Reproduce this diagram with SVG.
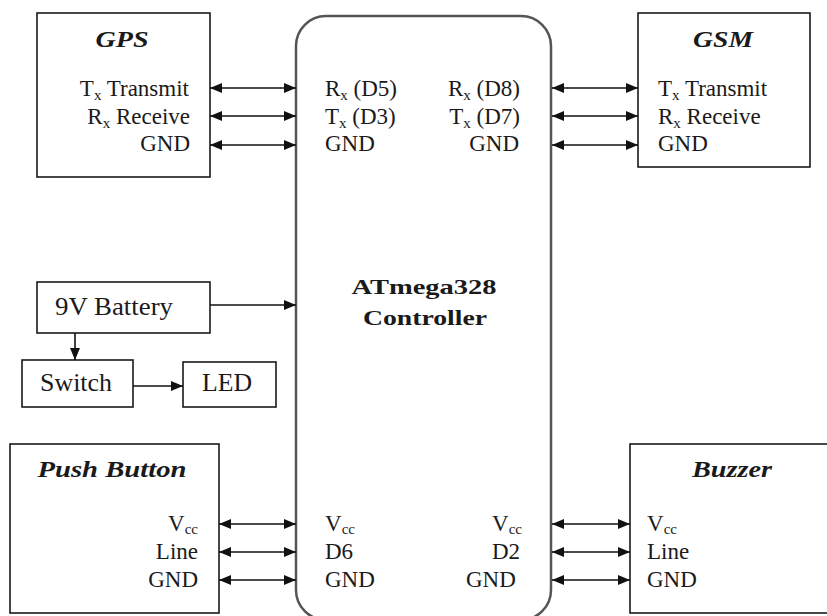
<svg xmlns="http://www.w3.org/2000/svg" width="827" height="616" viewBox="0 0 827 616">
<defs>
<marker id="ah" viewBox="0 0 12 10" refX="12" refY="5" markerWidth="12" markerHeight="10" markerUnits="userSpaceOnUse" orient="auto-start-reverse">
<path d="M0,0 L12,5 L0,10 z" fill="#111"/>
</marker>
<style>
.box{fill:#fff;stroke:#1a1a1a;stroke-width:1.6}
.ctrl{fill:#fff;stroke:#555;stroke-width:2.5}
.t{font-size:23px}
.b{font-size:26px}
.ttl{font-size:23px;font-weight:bold;font-style:italic}
.cb{font-size:22px;font-weight:bold}
.s{font-size:15px}
.c line{stroke:#111;stroke-width:1.6}
.bi line{marker-start:url(#ah);marker-end:url(#ah)}
</style>
</defs>
<rect width="827" height="616" fill="#fff"/>
<g font-family="Liberation Serif, 'Times New Roman', 'DejaVu Serif', serif" fill="#1a1a1a">

<g id="controller">
<rect class="ctrl" x="296" y="16" width="255" height="604" rx="30" ry="30"/>
<text class="cb" x="424" y="294" text-anchor="middle" textLength="145" lengthAdjust="spacingAndGlyphs">ATmega328</text>
<text class="cb" x="425" y="325" text-anchor="middle" textLength="124" lengthAdjust="spacingAndGlyphs">Controller</text>
<text class="t" x="325" y="96">R<tspan class="s" dy="4">x</tspan><tspan dy="-4"> (D5)</tspan></text>
<text class="t" x="325" y="124">T<tspan class="s" dy="4">x</tspan><tspan dy="-4"> (D3)</tspan></text>
<text class="t" x="325" y="151">GND</text>
<text class="t" x="520" y="96" text-anchor="end">R<tspan class="s" dy="4">x</tspan><tspan dy="-4"> (D8)</tspan></text>
<text class="t" x="520" y="124" text-anchor="end">T<tspan class="s" dy="4">x</tspan><tspan dy="-4"> (D7)</tspan></text>
<text class="t" x="519" y="151" text-anchor="end">GND</text>
<text class="t" x="325" y="531">V<tspan class="s" dy="3">cc</tspan></text>
<text class="t" x="325" y="559">D6</text>
<text class="t" x="325" y="587">GND</text>
<text class="t" x="492" y="531">V<tspan class="s" dy="3">cc</tspan></text>
<text class="t" x="492" y="559">D2</text>
<text class="t" x="466" y="587">GND</text>
</g>

<g id="gps">
<rect class="box" x="37" y="13" width="173" height="164"/>
<text class="ttl" x="122" y="47" text-anchor="middle" textLength="53" lengthAdjust="spacingAndGlyphs">GPS</text>
<text class="t" x="189" y="96" text-anchor="end">T<tspan class="s" dy="4">x</tspan><tspan dy="-4"> Transmit</tspan></text>
<text class="t" x="190" y="124" text-anchor="end">R<tspan class="s" dy="4">x</tspan><tspan dy="-4"> Receive</tspan></text>
<text class="t" x="190" y="151" text-anchor="end">GND</text>
</g>

<g id="gsm">
<rect class="box" x="638" y="13" width="172" height="154"/>
<text class="ttl" x="723" y="47" text-anchor="middle" textLength="60" lengthAdjust="spacingAndGlyphs">GSM</text>
<text class="t" x="658" y="96">T<tspan class="s" dy="4">x</tspan><tspan dy="-4"> Transmit</tspan></text>
<text class="t" x="658" y="124">R<tspan class="s" dy="4">x</tspan><tspan dy="-4"> Receive</tspan></text>
<text class="t" x="658" y="151">GND</text>
</g>

<g id="battery">
<rect class="box" x="37" y="282" width="173" height="51"/>
<text class="b" x="55" y="315" textLength="118" lengthAdjust="spacingAndGlyphs">9V Battery</text>
</g>

<g id="switch">
<rect class="box" x="22" y="360" width="111" height="47"/>
<text class="b" x="40" y="391" textLength="72" lengthAdjust="spacingAndGlyphs">Switch</text>
</g>

<g id="led">
<rect class="box" x="183" y="362" width="93" height="45"/>
<text class="b" x="202" y="391" textLength="50" lengthAdjust="spacingAndGlyphs">LED</text>
</g>

<g id="pushbutton">
<rect class="box" x="10" y="444" width="209" height="169"/>
<text class="ttl" x="112" y="477" text-anchor="middle" textLength="149" lengthAdjust="spacingAndGlyphs">Push Button</text>
<text class="t" x="198" y="531" text-anchor="end">V<tspan class="s" dy="3">cc</tspan></text>
<text class="t" x="198" y="559" text-anchor="end">Line</text>
<text class="t" x="198" y="587" text-anchor="end">GND</text>
</g>

<g id="buzzer">
<rect class="box" x="630" y="444" width="200" height="169"/>
<text class="ttl" x="732" y="477" text-anchor="middle" textLength="80" lengthAdjust="spacingAndGlyphs">Buzzer</text>
<text class="t" x="647" y="531">V<tspan class="s" dy="3">cc</tspan></text>
<text class="t" x="647" y="559">Line</text>
<text class="t" x="647" y="587">GND</text>
</g>

</g>

<g id="connectors" class="c">
<g class="bi">
<line x1="210" y1="88" x2="296" y2="88"/>
<line x1="210" y1="116" x2="296" y2="116"/>
<line x1="210" y1="145" x2="296" y2="145"/>
<line x1="552" y1="88" x2="638" y2="88"/>
<line x1="552" y1="116" x2="638" y2="116"/>
<line x1="552" y1="145" x2="638" y2="145"/>
<line x1="219" y1="524" x2="296" y2="524"/>
<line x1="219" y1="552" x2="296" y2="552"/>
<line x1="219" y1="580" x2="296" y2="580"/>
<line x1="552" y1="524" x2="630" y2="524"/>
<line x1="552" y1="552" x2="630" y2="552"/>
<line x1="552" y1="580" x2="630" y2="580"/>
</g>
<line x1="210" y1="305" x2="296" y2="305" marker-end="url(#ah)"/>
<line x1="75" y1="333" x2="75" y2="360" marker-end="url(#ah)"/>
<line x1="133" y1="386" x2="183" y2="386" marker-end="url(#ah)"/>
</g>
</svg>
